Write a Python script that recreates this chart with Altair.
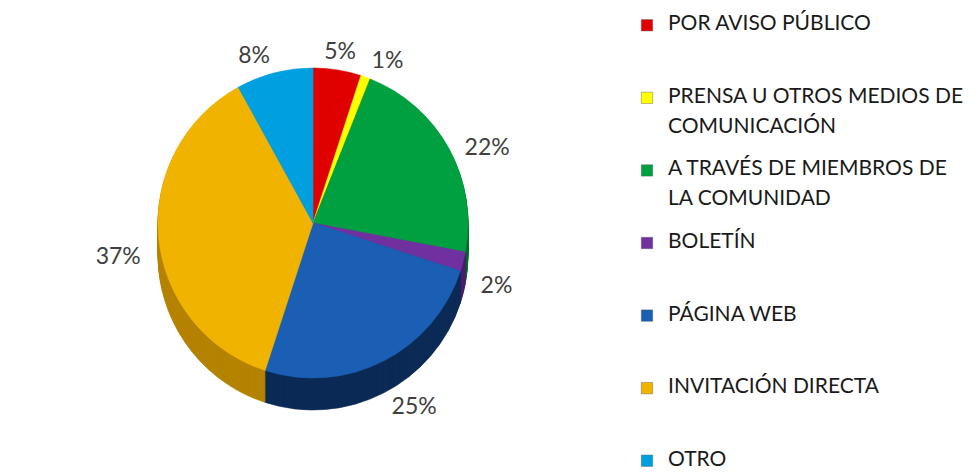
import altair as alt
import pandas as pd
import numpy as np

# ---- data ----
CATEGORIES = [
    "POR AVISO PÚBLICO",
    "PRENSA U OTROS MEDIOS DE\nCOMUNICACIÓN",
    "A TRAVÉS DE MIEMBROS DE\nLA COMUNIDAD",
    "BOLETÍN",
    "PÁGINA WEB",
    "INVITACIÓN DIRECTA",
    "OTRO",
]
VALUES = [5, 1, 22, 2, 25, 37, 8]
LABELS = ["5%", "1%", "22%", "2%", "25%", "37%", "8%"]

# ---- styles ----
TOP_COLORS = ["#e00000", "#ffff00", "#00a040", "#7030a0", "#1a5fb4", "#f0b400", "#00a0e0"]
SIDE_COLORS = ["#8e0000", "#a8a800", "#006a2a", "#4a1f6e", "#0b2a55", "#b58300", "#006e9e"]
FONT = "Lato"
CX, CY, R, THICK = 300, 205, 155, 32
PIE_W, PIE_H = 610, 450
LEG_W, LEG_H = 336, 450

total = sum(VALUES)
df = pd.DataFrame({
    "idx": list(range(len(CATEGORIES))),
    "cat": CATEGORIES,
    "value": VALUES,
    "label": LABELS,
    "top_color": TOP_COLORS,
    "side_color": SIDE_COLORS,
})
df["end"] = df["value"].cumsum()
df["start"] = df["end"] - df["value"]
df["mid"] = (df["start"] + df["end"]) / 2
ang = df["mid"] / total * 2 * np.pi
df["ly"] = CY + THICK * (1 - np.cos(ang)) / 2
s = np.sin(ang)
df["side"] = np.where(s > 0.2, "left", np.where(s < -0.2, "right", "center"))

theta_scale = alt.Scale(domain=[0, total], range=[0, 2 * np.pi])
base = alt.Chart(df)


def pie_layer(dy, color_field):
    return base.mark_arc(outerRadius=R, strokeWidth=0.6).encode(
        x=alt.value(CX),
        y=alt.value(CY + dy),
        theta=alt.Theta("start:Q", scale=theta_scale, stack=None),
        theta2="end:Q",
        color=alt.Color(f"{color_field}:N", scale=None),
        stroke=alt.Stroke(f"{color_field}:N", scale=None),
    )


layers = [pie_layer(d, "side_color") for d in range(THICK, 0, -1)]
layers.append(pie_layer(0, "top_color"))


def label_layer(align):
    return base.transform_filter(f"datum.side == '{align}'").mark_text(
        radius=R + 18, font=FONT, fontSize=23, color="#404040",
        align=align, baseline="middle",
    ).encode(
        x=alt.value(CX),
        y=alt.Y("ly:Q", scale=None, axis=None),
        theta=alt.Theta("mid:Q", scale=theta_scale, stack=None),
        text="label:N",
    )


for a in ["left", "right", "center"]:
    layers.append(label_layer(a))

pie = alt.layer(*layers).properties(width=PIE_W, height=PIE_H)

leg_y = alt.Y("idx:O", scale=alt.Scale(type="point", padding=0.1), axis=None)
leg_sq = alt.Chart(df).mark_square(size=130, opacity=1, stroke="#555", strokeWidth=0.4).encode(
    x=alt.value(24),
    y=leg_y,
    color=alt.Color("top_color:N", scale=None),
)
leg_tx = alt.Chart(df).mark_text(
    align="left", baseline="top", dy=-12, lineBreak="\n", lineHeight=30,
    font=FONT, fontSize=21, color="#1a1a1a",
).encode(
    x=alt.value(45),
    y=leg_y,
    text="cat:N",
)
legend = alt.layer(leg_sq, leg_tx).properties(width=LEG_W, height=LEG_H)

chart = alt.hconcat(pie, legend, spacing=0).configure_view(stroke=None).properties(
    padding={"left": 5, "top": 5, "right": 0, "bottom": 5}
)

chart.save("out.html", embed_options={"renderer": "svg", "actions": False})
